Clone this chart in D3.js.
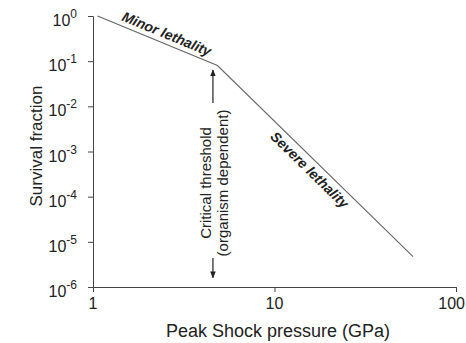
<!DOCTYPE html>
<html>
<head>
<meta charset="utf-8">
<script src="https://cdn.jsdelivr.net/npm/d3@7"></script>
<style>
  body { margin: 0; background: #fff; }
  svg { font-family: "Liberation Sans", Arial, sans-serif; }
</style>
</head>
<body>
<div id="chart"></div>
<script>
// survival curve (pressure GPa, survival fraction)
var pressure = [1.06, 4.85, 58];
var survival = [1, 0.08, 4.7e-6];

var yExponents = [0, -1, -2, -3, -4, -5, -6];
var xTickValues = [1, 10, 100];
var xTickLabels = ["1", "10", "100"];

// regime labels, placed at a pressure on the curve
var regimeNames = ["Minor lethality", "Severe lethality"];
var regimeAt = [2.43, 17.1];
var regimeSide = [-5, 15];

var thresholdLines = ["Critical threshold", "(organism dependent)"];
var thresholdP = 4.58;

function init(){
	var w = 466, h = 343;

	var x = d3.scaleLog().domain([1, 100]).range([93, 456]);
	var y = d3.scaleLog().domain([1e-6, 1]).range([287, 16]);

	var svg = d3.select("#chart")
				.append("svg")
				.attr("width", w)
				.attr("height", h);

	svg.append("defs").append("marker")
		.attr("id", "head")
		.attr("viewBox", "0 0 10 10")
		.attr("refX", 9).attr("refY", 5)
		.attr("markerWidth", 7).attr("markerHeight", 7)
		.attr("markerUnits", "userSpaceOnUse")
		.attr("orient", "auto")
		.append("path")
		.attr("d", "M0,1 L10,5 L0,9 Z")
		.attr("fill", "#222");

	// minor tick values
	var xMinor = [], yMinor = [];
	[1, 10].forEach(function(d){
		for (var k = 2; k <= 9; k++) xMinor.push(d * k);
	});
	yExponents.slice(1).forEach(function(e){
		for (var k = 2; k <= 9; k++) yMinor.push(k * Math.pow(10, e));
	});
	var yMajor = yExponents.map(function(e){ return Math.pow(10, e); });

	// axes
	var gx = svg.append("g").attr("transform", "translate(0,287)");
	gx.call(d3.axisBottom(x).tickValues(xMinor).tickSize(3).tickFormat(""));
	gx.call(d3.axisBottom(x).tickValues(xTickValues).tickSize(5).tickFormat(""));

	var gy = svg.append("g").attr("transform", "translate(93,0)");
	gy.call(d3.axisLeft(y).tickValues(yMinor).tickSize(3).tickFormat(""));
	gy.call(d3.axisLeft(y).tickValues(yMajor).tickSize(5).tickFormat(""));

	svg.selectAll(".domain").attr("stroke", "#444");
	svg.selectAll(".tick line").attr("stroke", "#444");

	// x tick labels (last one kept inside the page edge)
	svg.selectAll(".xlab")
		.data(xTickValues)
		.enter()
		.append("text")
		.attr("x", function(d, i){ return i == xTickValues.length - 1 ? w - 1 : x(d); })
		.attr("y", 309)
		.attr("text-anchor", function(d, i){ return i == xTickValues.length - 1 ? "end" : "middle"; })
		.attr("font-size", 16)
		.attr("fill", "#222")
		.text(function(d, i){ return xTickLabels[i]; });

	// y tick labels 10^n
	var ylab = svg.selectAll(".ylab")
		.data(yExponents)
		.enter()
		.append("text")
		.attr("x", 77)
		.attr("y", function(d){ return y(Math.pow(10, d)) + 10; })
		.attr("text-anchor", "end")
		.attr("font-size", 16)
		.attr("fill", "#222");
	ylab.append("tspan").text("10");
	ylab.append("tspan")
		.attr("font-size", 12)
		.attr("dy", -8)
		.text(function(d){ return d; });

	// axis titles
	svg.append("text")
		.attr("x", 278).attr("y", 337)
		.attr("text-anchor", "middle")
		.attr("font-size", 18)
		.attr("fill", "#222")
		.text("Peak Shock pressure (GPa)");

	svg.append("text")
		.attr("transform", "translate(42,146) rotate(-90)")
		.attr("text-anchor", "middle")
		.attr("font-size", 17)
		.attr("fill", "#222")
		.text("Survival fraction");

	// survival curve
	var line = d3.line()
				.x(function(d){ return x(d[0]); })
				.y(function(d){ return y(d[1]); });
	svg.append("path")
		.datum(d3.zip(pressure, survival))
		.attr("d", line)
		.attr("fill", "none")
		.attr("stroke", "#666")
		.attr("stroke-width", 1.1);

	// regime labels along the segments
	regimeNames.forEach(function(name, i){
		var p0 = [x(pressure[i]), y(survival[i])];
		var p1 = [x(pressure[i + 1]), y(survival[i + 1])];
		var ang = Math.atan2(p1[1] - p0[1], p1[0] - p0[0]) * 180 / Math.PI;
		var px = x(regimeAt[i]);
		var py = p0[1] + (px - p0[0]) * (p1[1] - p0[1]) / (p1[0] - p0[0]);
		svg.append("text")
			.attr("transform", "translate(" + px + "," + py + ") rotate(" + ang + ")")
			.attr("dy", regimeSide[i])
			.attr("text-anchor", "middle")
			.attr("font-size", 14)
			.attr("font-weight", "bold")
			.attr("font-style", "italic")
			.attr("fill", "#222")
			.text(name);
	});

	// critical threshold arrows and text
	var arrows = [[0.0119, 0.064], [4.4e-6, 1.6e-6]];
	svg.selectAll(".arrow")
		.data(arrows)
		.enter()
		.append("line")
		.attr("x1", x(thresholdP)).attr("x2", x(thresholdP))
		.attr("y1", function(d){ return y(d[0]); })
		.attr("y2", function(d){ return y(d[1]); })
		.attr("stroke", "#222")
		.attr("stroke-width", 1.2)
		.attr("marker-end", "url(#head)");

	svg.selectAll(".thr")
		.data(thresholdLines)
		.enter()
		.append("text")
		.attr("transform", function(d, i){
			return "translate(" + (211 + i * 17) + ",183) rotate(-90)";
		})
		.attr("text-anchor", "middle")
		.attr("font-size", 15)
		.attr("fill", "#222")
		.text(function(d){ return d; });
}

window.onload = init;
</script>
</body>
</html>
